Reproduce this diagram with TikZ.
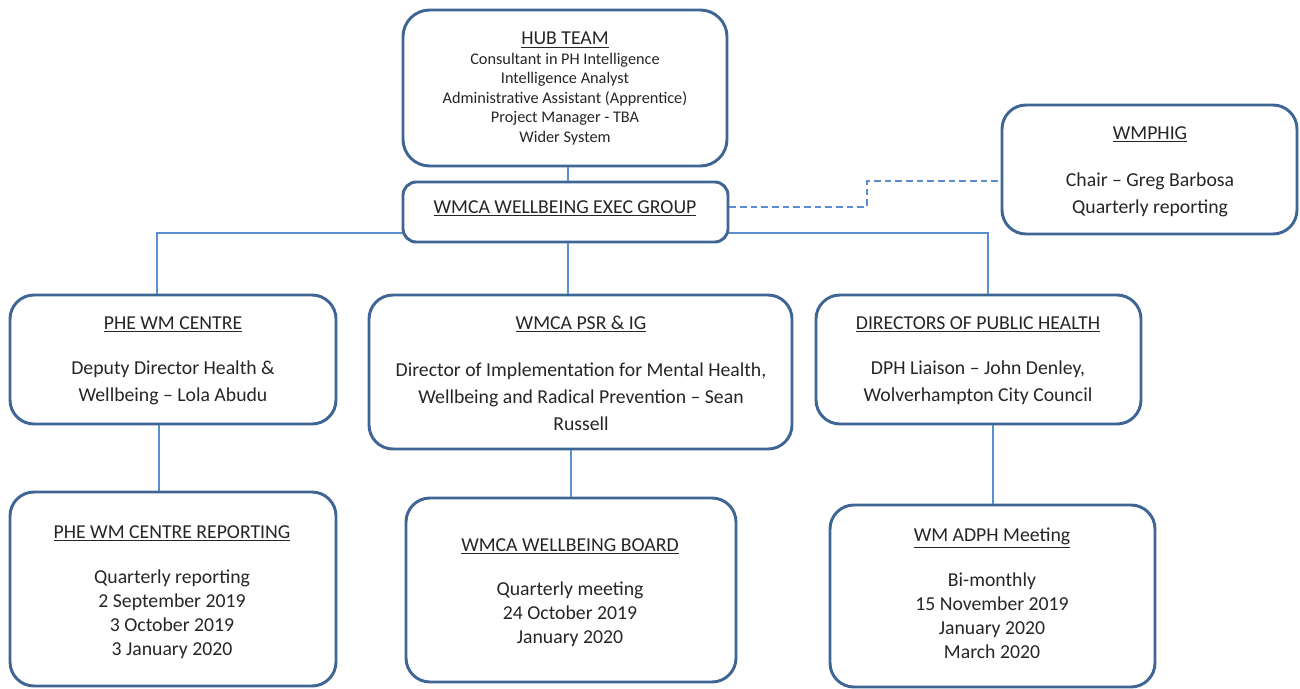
\documentclass[tikz,border=0pt]{standalone}
\usepackage{fontspec}
\setmainfont{Carlito}
\definecolor{boxblue}{HTML}{3E6594}
\definecolor{linkblue}{HTML}{5A8FCF}
\tikzset{
  x=0.75pt, y=-0.75pt,
  box/.style={draw=boxblue, line width=2.2pt, rounded corners=18pt, fill=white, inner sep=0pt},
  conn/.style={draw=linkblue, line width=1.5pt},
  dashconn/.style={draw=linkblue, line width=1.5pt, dash pattern=on 5pt off 3pt},
  txt/.style={align=center, inner sep=0pt, anchor=north, text=black!85, font={\fontsize{14.8}{20.25}\selectfont}},
  txtlow/.style={txt, font={\fontsize{14.8}{18}\selectfont}},
  txthub/.style={txt, font={\fontsize{12.2}{14.6}\selectfont}},
}
\begin{document}
\begin{tikzpicture}
\useasboundingbox (0,0) rectangle (1300,689);
% boxes
\node[box, rounded corners=20pt, minimum width=243pt, minimum height=117pt] (hub) at (565,88) {};
\node[box, rounded corners=10pt, minimum width=243.75pt, minimum height=45pt] (exec) at (565.5,212) {};
\node[box, minimum width=221.25pt, minimum height=96.75pt] (wmphig) at (1149.5,169.5) {};
\node[box, minimum width=244.5pt, minimum height=96.75pt] (phe) at (173,359.5) {};
\node[box, minimum width=317.25pt, minimum height=115.5pt] (psr) at (580.5,372) {};
\node[box, minimum width=243.75pt, minimum height=96.75pt] (dph) at (978.5,359.5) {};
\node[box, minimum width=244.5pt, minimum height=145.5pt] (pherep) at (173,589) {};
\node[box, minimum width=247.5pt, minimum height=138pt] (board) at (571,590) {};
\node[box, minimum width=243.75pt, minimum height=136.5pt] (adph) at (992.5,596) {};
% connectors
\coordinate (busL) at (157,233);
\coordinate (busR) at (988,233);
\coordinate (d1) at (867,207);
\coordinate (d2) at (867,181);
\draw[conn] ([xshift=2.25pt]hub.south) -- ([xshift=2.25pt]hub.south |- exec.north);
\draw[conn] ([xshift=2pt]exec.south) -- ([xshift=2pt]exec.south |- psr.north);
\draw[conn] (busL |- phe.north) -- (busL) -- (exec.west |- busL);
\draw[conn] (exec.east |- busR) -- (busR) -- (busR |- dph.north);
\draw[dashconn] (exec.east |- d1) -- (d1) -- (d2) -- (wmphig.west |- d2);
\draw[conn] ([xshift=-10.5pt]phe.south) -- ([xshift=-10.5pt]phe.south |- pherep.north);
\draw[conn] (board.north |- psr.south) -- (board.north);
\draw[conn] (adph.north |- dph.south) -- (adph.north);
% texts
\node[txthub] (hubt) at (565,32) {{\fontsize{14.8}{14.6}\selectfont\underline{HUB TEAM}}\\Consultant in PH Intelligence\\Intelligence Analyst\\Administrative Assistant (Apprentice)\\Project Manager - TBA\\Wider System};
\node[txt] (exect) at (565,200) {\underline{WMCA WELLBEING EXEC GROUP}};
\node[txt] (wmphigt) at (1150,126) {\underline{WMPHIG}\\[15pt]Chair – Greg Barbosa\\Quarterly reporting};
\node[txt] (phet) at (173,316) {\underline{PHE WM CENTRE}\\[13.5pt]Deputy Director Health \&\\Wellbeing – Lola Abudu};
\node[txt] (psrt) at (581,316) {\underline{WMCA PSR \& IG}\\[15pt]Director of Implementation for Mental Health,\\Wellbeing and Radical Prevention – Sean\\Russell};
\node[txt] (dpht) at (978,316) {\underline{DIRECTORS OF PUBLIC HEALTH}\\[13.5pt]DPH Liaison – John Denley,\\Wolverhampton City Council};
\node[txtlow] (phereptt) at (172,525) {\underline{PHE WM CENTRE REPORTING}\\[15.75pt]Quarterly reporting\\2 September 2019\\3 October 2019\\3 January 2020};
\node[txtlow] (boardt) at (570,538) {\underline{WMCA WELLBEING BOARD}\\[15pt]Quarterly meeting\\24 October 2019\\January 2020};
\node[txtlow] (adpht) at (992,528) {\underline{WM ADPH Meeting}\\[15.75pt]Bi-monthly\\15 November 2019\\January 2020\\March 2020};
\end{tikzpicture}
\end{document}
